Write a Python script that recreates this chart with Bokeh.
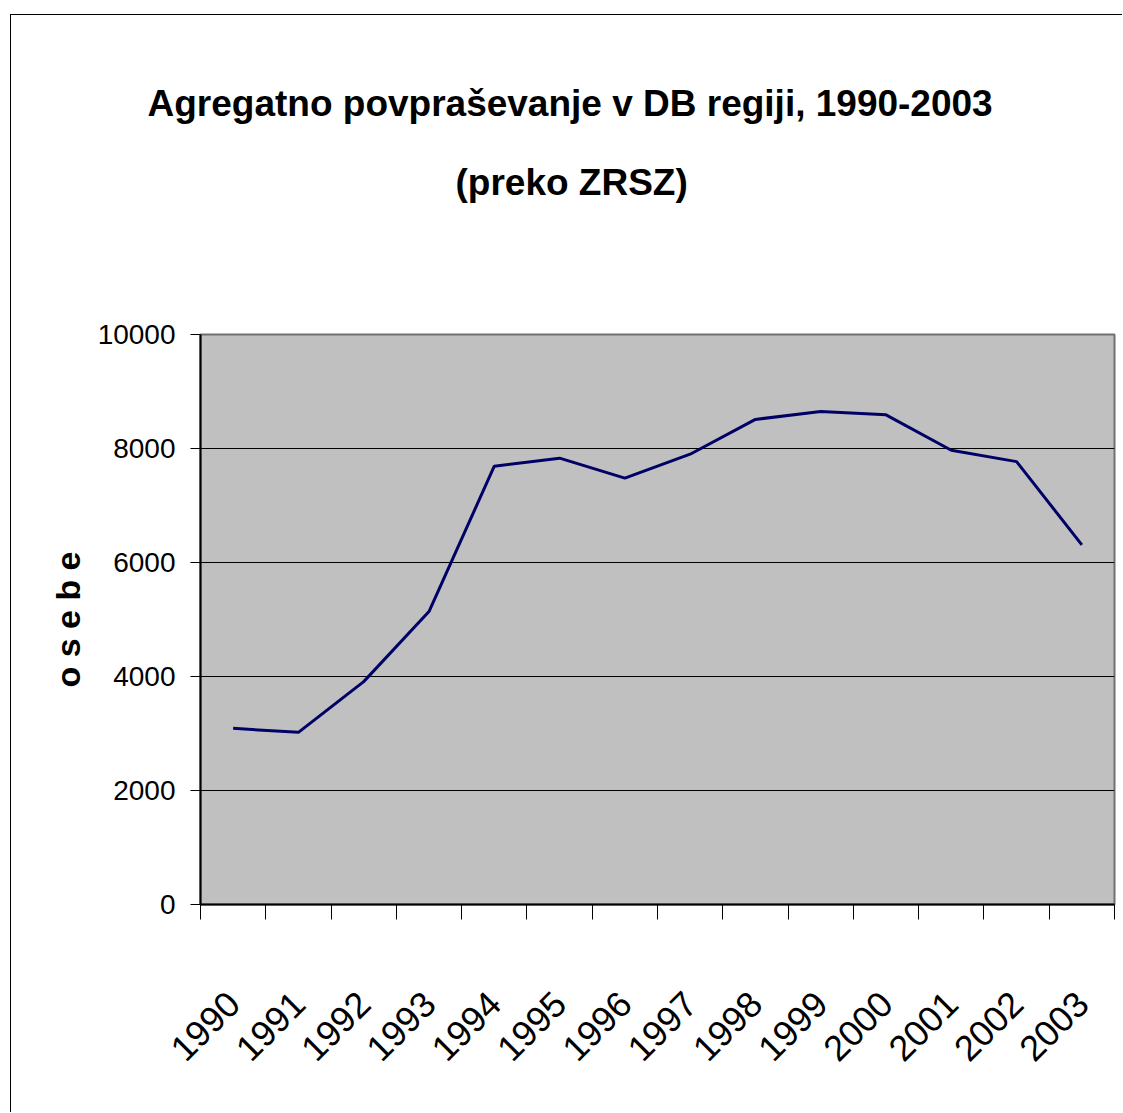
import math
from bokeh.plotting import figure
from bokeh.models import Range1d, FixedTicker, Title
from bokeh.embed import file_html
from bokeh.resources import INLINE

years = ["1990", "1991", "1992", "1993", "1994", "1995", "1996",
         "1997", "1998", "1999", "2000", "2001", "2002", "2003"]
values = [3090, 3020, 3910, 5140, 7690, 7830, 7480,
          7900, 8510, 8650, 8590, 7970, 7770, 6310]
y_ticks = [0, 2000, 4000, 6000, 8000, 10000]
title_line1 = "Agregatno povpraševanje v DB regiji, 1990-2003"
title_line2 = "(preko ZRSZ)"
y_label = "o s e b e"

FONT = "Liberation Sans"

n = len(years)
xs = [i + 0.5 for i in range(n)]

p = figure(width=1112, height=1098, output_backend="svg", toolbar_location=None,
           x_range=Range1d(0, n), y_range=Range1d(0, 10000),
           min_border_left=189, min_border_right=9, min_border_top=319,
           min_border_bottom=209)
p.title = None
p.styles = {"border-top": "1px solid #000000", "border-left": "1px solid #000000",
            "margin-top": "14px", "margin-left": "10px"}

p.background_fill_color = "#C0C0C0"
p.border_fill_color = "#FFFFFF"
p.outline_line_color = "#707070"
p.outline_line_width = 2

p.line(xs, values, line_color="#000066", line_width=3)

# titles stacked outward from the frame: spacer, line 2, line 1
spacer = Title(text=" ", text_font=FONT, text_font_size="10px", standoff=114)
t2 = Title(text=title_line2, align="left", offset=255, text_font=FONT,
           text_font_size="37px", text_font_style="bold", text_color="#000000",
           standoff=10)
t1 = Title(text=title_line1, align="left", offset=-53, text_font=FONT,
           text_font_size="37px", text_font_style="bold", text_color="#000000",
           standoff=62)
p.add_layout(spacer, "above")
p.add_layout(t2, "above")
p.add_layout(t1, "above")

# y axis
yax = p.yaxis[0]
yax.ticker = FixedTicker(ticks=y_ticks)
yax.minor_tick_line_color = None
yax.major_tick_in = 0
yax.major_tick_out = 10
yax.major_tick_line_color = "#000000"
yax.axis_line_color = "#000000"
yax.axis_line_width = 2
yax.major_label_text_font = FONT
yax.major_label_text_font_size = "28px"
yax.major_label_text_color = "#000000"
yax.major_label_standoff = 15
yax.axis_label = y_label
yax.axis_label_text_font = FONT
yax.axis_label_text_font_size = "34px"
yax.axis_label_text_font_style = "bold"
yax.axis_label_text_color = "#000000"
yax.axis_label_standoff = 8

# x axis: labels at centres, tick marks at category boundaries
xax = p.xaxis[0]
xax.ticker = FixedTicker(ticks=xs, minor_ticks=list(range(n + 1)))
xax.major_label_overrides = {x: y for x, y in zip(xs, years)}
xax.major_tick_in = 0
xax.major_tick_out = 0
xax.minor_tick_in = 0
xax.minor_tick_out = 15
xax.minor_tick_line_color = "#000000"
xax.axis_line_color = "#000000"
xax.axis_line_width = 2
xax.major_label_orientation = math.pi / 4
xax.major_label_text_font = FONT
xax.major_label_text_font_size = "36px"
xax.major_label_text_color = "#000000"
xax.major_label_standoff = 78

p.xgrid.grid_line_color = None
p.ygrid.ticker = FixedTicker(ticks=y_ticks)
p.ygrid.grid_line_color = "#000000"
p.ygrid.grid_line_width = 1

open("out.html", "w").write(file_html(p, INLINE))
